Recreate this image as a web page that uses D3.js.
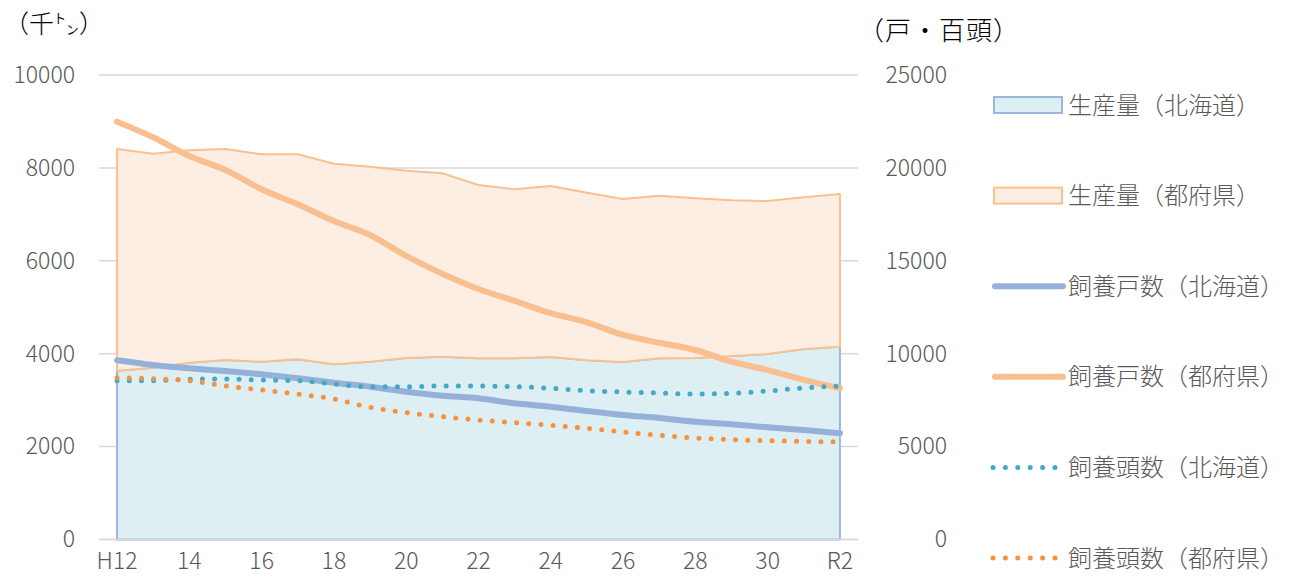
<!DOCTYPE html>
<html>
<head>
<meta charset="utf-8">
<script src="https://cdn.jsdelivr.net/npm/d3@7"></script>
<style>
  body { margin: 0; background: #fff; }
  svg { display: block; }
  text { font-family: "Noto Sans CJK JP", "Noto Sans", sans-serif; font-weight: 300; }
</style>
</head>
<body>
<svg id="chart" width="1291" height="584"></svg>
<script>
// Fiscal years H12 … H30, R1, R2
const years = ["H12","13","14","15","16","17","18","19","20","21","22","23","24","25","26","27","28","29","30","R1","R2"];
const tickYears = ["H12","14","16","18","20","22","24","26","28","30","R2"];

// Milk production (thousand t) — stacked areas
const prodHokkaido = [3635,3699,3807,3864,3829,3879,3771,3829,3907,3936,3900,3900,3929,3857,3821,3900,3907,3950,3994,4101,4151];
const prodPrefectures = [4772,4607,4572,4543,4464,4414,4320,4197,4033,3948,3732,3639,3681,3609,3509,3502,3438,3352,3293,3266,3287];

// Number of dairy farms (戸) — right axis
const farmsHokkaido = [9645,9392,9213,9069,8890,8675,8440,8224,7955,7740,7600,7330,7147,6916,6701,6539,6341,6200,6039,5893,5716];
const farmsPrefectures = [22487,21650,20640,19890,18850,18040,17140,16390,15260,14300,13480,12840,12180,11690,11010,10590,10200,9570,9120,8590,8140];

// Number of dairy cattle (百頭) — right axis
const headHokkaido = [8547,8547,8622,8640,8585,8547,8369,8224,8224,8262,8262,8224,8137,8010,7939,7885,7831,7867,7992,8154,8262];
const headPrefectures = [8708,8655,8547,8262,8047,7831,7562,7115,6826,6611,6432,6288,6146,5985,5786,5608,5463,5374,5320,5285,5248];

const leftTicks = [0,2000,4000,6000,8000,10000];
const rightTicks = [0,5000,10000,15000,20000,25000];

const svg = d3.select("#chart");
const plot = { left: 99, right: 858, top: 75, bottom: 539.5 };

const x = d3.scaleBand().domain(years).range([plot.left, plot.right]);
const cx = d => x(d) + x.bandwidth() / 2;
const yL = d3.scaleLinear().domain([0, 10000]).range([plot.bottom, plot.top]);
const yR = d3.scaleLinear().domain([0, 25000]).range([plot.bottom, plot.top]);

const labelColor = "#595959";
const tickFont = "23px";

// Gridlines
svg.append("g")
  .selectAll("line").data(leftTicks).join("line")
  .attr("x1", plot.left).attr("x2", plot.right)
  .attr("y1", d => yL(d)).attr("y2", d => yL(d))
  .attr("stroke", "#D9D9D9").attr("stroke-width", 1.5);

function styleAxis(g) {
  g.select(".domain").remove();
  g.selectAll("text").attr("fill", labelColor)
    .style("font-size", tickFont)
    .style("font-family", "'Noto Sans CJK JP', sans-serif")
    .style("font-weight", 300);
}

// Left axis labels
const axisL = d3.axisLeft(yL).tickValues(leftTicks).tickSize(0).tickPadding(0).tickFormat(d3.format("d"));
svg.append("g").attr("transform", "translate(75,0)").call(axisL).call(styleAxis);

// Right axis labels
const axisR = d3.axisLeft(yR).tickValues(rightTicks).tickSize(0).tickPadding(0).tickFormat(d3.format("d"));
svg.append("g").attr("transform", "translate(947,0)").call(axisR).call(styleAxis);

// Bottom axis labels
const axisB = d3.axisBottom(x).tickValues(tickYears).tickSize(0).tickPadding(0);
svg.append("g").attr("transform", "translate(0,553)").call(axisB).call(styleAxis);

// Stacked production areas
const stackData = years.map((y, i) => ({ year: y, hok: prodHokkaido[i], pref: prodPrefectures[i] }));
const series = d3.stack().keys(["hok", "pref"])(stackData);
const areaGen = d3.area().x(d => cx(d.data.year)).y0(d => yL(d[0])).y1(d => yL(d[1]));

const areaStyles = { hok: { fill: "#DEEFF3", stroke: "#9BB7E0" }, pref: { fill: "#FCEEE3", stroke: "#FAC090" } };
series.forEach(s => {
  svg.append("path").datum(s)
    .attr("d", areaGen)
    .attr("fill", areaStyles[s.key].fill)
    .attr("stroke", areaStyles[s.key].stroke)
    .attr("stroke-width", 2)
    .attr("stroke-linejoin", "round");
});

// Baseline
svg.append("line")
  .attr("x1", plot.left).attr("x2", plot.right)
  .attr("y1", yL(0)).attr("y2", yL(0))
  .attr("stroke", "#D9D9D9").attr("stroke-width", 1.5);

// Lines on the right axis
const lineGen = d3.line().x((d, i) => cx(years[i])).y(d => yR(d)).curve(d3.curveMonotoneX);

function drawLine(values, color, width, dotted) {
  const p = svg.append("path").datum(values)
    .attr("d", lineGen)
    .attr("fill", "none")
    .attr("stroke", color)
    .attr("stroke-width", width)
    .attr("stroke-linecap", "round")
    .attr("stroke-linejoin", "round");
  if (dotted) p.attr("stroke-dasharray", "0 12.2");
}

drawLine(farmsHokkaido, "#95B1DA", 6, false);
drawLine(farmsPrefectures, "#F9BF8F", 6, false);
drawLine(headHokkaido, "#43A9C5", 5, true);
drawLine(headPrefectures, "#F6923F", 5, true);

// Axis titles
svg.append("text").attr("x", 4).attr("y", 33)
  .style("font-size", "25px").attr("fill", "#000").text("（千㌧）");
svg.append("text").attr("x", 858).attr("y", 40)
  .style("font-size", "26px").attr("fill", "#000").attr("letter-spacing", "1px").text("（戸・百頭）");

// Legend
const legendItems = [
  { label: "生産量（北海道）", type: "box", fill: "#DEEFF3", stroke: "#9BB7E0" },
  { label: "生産量（都府県）", type: "box", fill: "#FCEEE3", stroke: "#FAC090" },
  { label: "飼養戸数（北海道）", type: "line", stroke: "#95B1DA" },
  { label: "飼養戸数（都府県）", type: "line", stroke: "#F9BF8F" },
  { label: "飼養頭数（北海道）", type: "dot", stroke: "#43A9C5" },
  { label: "飼養頭数（都府県）", type: "dot", stroke: "#F6923F" }
];
const legendY = d3.scalePoint().domain(legendItems.map(d => d.label)).range([105, 558]);
const lg = svg.append("g");
legendItems.forEach(item => {
  const yy = legendY(item.label);
  if (item.type === "box") {
    lg.append("rect").attr("x", 994).attr("y", yy - 8).attr("width", 68).attr("height", 16)
      .attr("fill", item.fill).attr("stroke", item.stroke).attr("stroke-width", 2);
  } else {
    const l = lg.append("line").attr("x1", 995).attr("x2", 1063).attr("y1", yy).attr("y2", yy)
      .attr("stroke", item.stroke).attr("stroke-linecap", "round");
    if (item.type === "line") l.attr("stroke-width", 6);
    else l.attr("stroke-width", 5).attr("stroke-dasharray", "0 12.4").attr("x1", 993).attr("x2", 1058);
  }
  lg.append("text").attr("x", 1068).attr("y", yy).attr("dy", "0.36em")
    .style("font-size", "24px").attr("fill", labelColor).text(item.label);
});
</script>
</body>
</html>
